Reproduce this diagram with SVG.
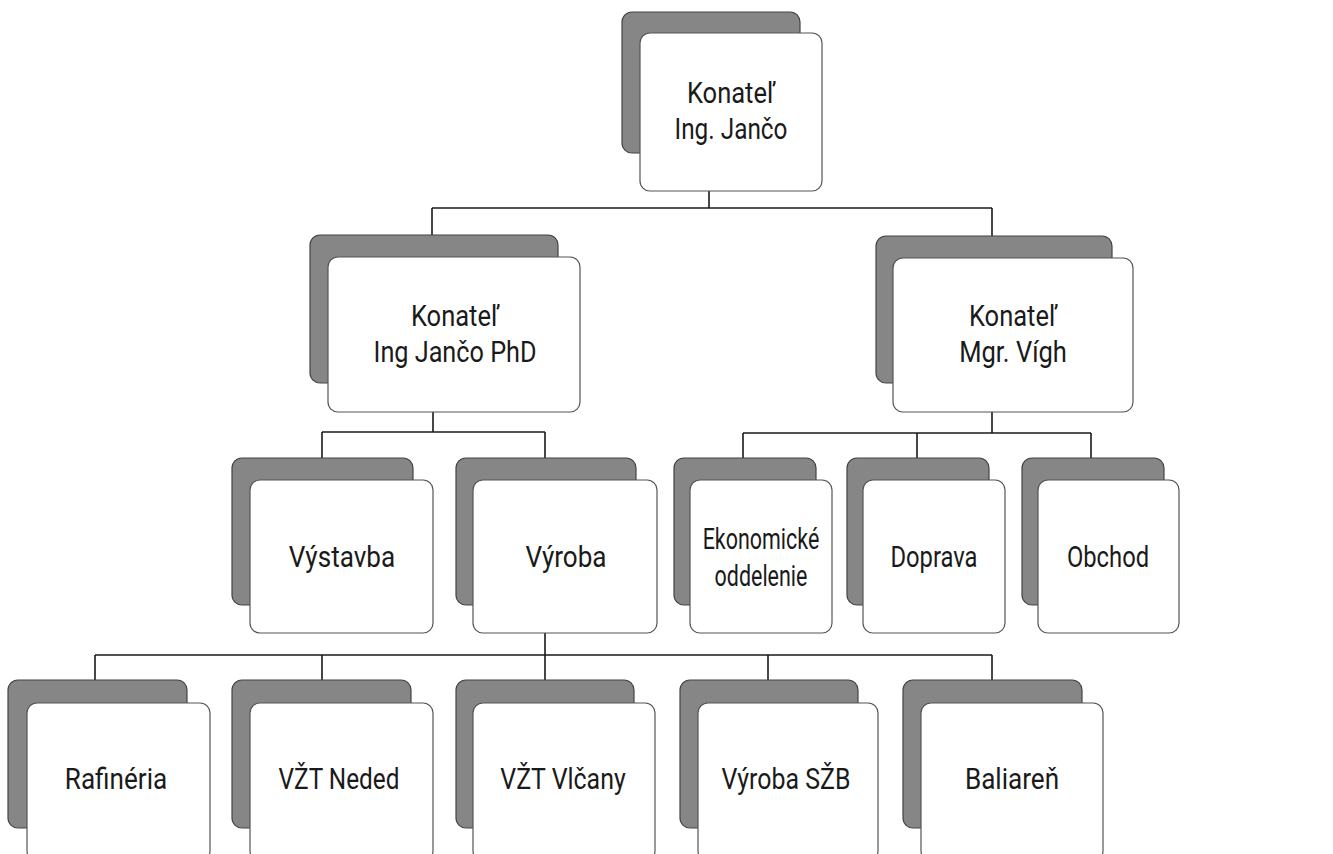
<svg xmlns="http://www.w3.org/2000/svg" width="1333" height="854" viewBox="0 0 1333 854">
<style>
.bg{fill:#ffffff}
.sh{fill:#868686;stroke:#444444;stroke-width:1.2}
.fr{fill:#ffffff;stroke:#555555;stroke-width:1.2}
.t{font-family:Roboto,"Liberation Sans",sans-serif;font-size:29px;fill:#1a1a1a;text-anchor:middle}
.c{fill:none;stroke:#1a1a1a;stroke-width:1.6}
</style>
<rect class="bg" x="0" y="0" width="1333" height="854"/>
<g id="connectors">
<path class="c" d="M709 191V208M432 208H992M432 208V235M992 208V236"/>
<path class="c" d="M433 412V432M322 432H545M322 432V458M545 432V458"/>
<path class="c" d="M992 412V433M743 433H1091M743 433V458M917 433V458M1091 433V458"/>
<path class="c" d="M545 633V655M95 655H992M95 655V680M322 655V680M545 655V680M768 655V680M992 655V680"/>
</g>
<g id="n-top">
<rect class="sh" x="622" y="12" width="178" height="141" rx="10"/>
<rect class="fr" x="640" y="33" width="182" height="158" rx="10"/>
<text class="t" transform="translate(731 103) scale(0.88 1)">Konateľ</text>
<text class="t" transform="translate(731 139) scale(0.84 1)">Ing. Jančo</text>
</g>
<g id="n-janco-phd">
<rect class="sh" x="310" y="235" width="248" height="148" rx="10"/>
<rect class="fr" x="328" y="257" width="252" height="155" rx="10"/>
<text class="t" transform="translate(455 326) scale(0.88 1)">Konateľ</text>
<text class="t" transform="translate(455 362) scale(0.87 1)">Ing Jančo PhD</text>
</g>
<g id="n-vigh">
<rect class="sh" x="876" y="236" width="236" height="147" rx="10"/>
<rect class="fr" x="893" y="258" width="240" height="154" rx="10"/>
<text class="t" transform="translate(1013 326) scale(0.88 1)">Konateľ</text>
<text class="t" transform="translate(1013 362) scale(0.88 1)">Mgr. Vígh</text>
</g>
<g id="n-vystavba">
<rect class="sh" x="232" y="458" width="181" height="147" rx="10"/>
<rect class="fr" x="250" y="480" width="183" height="153" rx="10"/>
<text class="t" transform="translate(342 567) scale(0.9 1)">Výstavba</text>
</g>
<g id="n-vyroba">
<rect class="sh" x="456" y="458" width="180" height="147" rx="10"/>
<rect class="fr" x="473" y="480" width="184" height="153" rx="10"/>
<text class="t" transform="translate(566 567) scale(0.9 1)">Výroba</text>
</g>
<g id="n-ekonomicke">
<rect class="sh" x="674" y="458" width="142" height="147" rx="10"/>
<rect class="fr" x="690" y="480" width="142" height="153" rx="10"/>
<text class="t" transform="translate(761 549) scale(0.74 1)">Ekonomické</text>
<text class="t" transform="translate(761 586) scale(0.74 1)">oddelenie</text>
</g>
<g id="n-doprava">
<rect class="sh" x="847" y="458" width="142" height="147" rx="10"/>
<rect class="fr" x="863" y="480" width="142" height="153" rx="10"/>
<text class="t" transform="translate(934 567) scale(0.82 1)">Doprava</text>
</g>
<g id="n-obchod">
<rect class="sh" x="1022" y="458" width="142" height="147" rx="10"/>
<rect class="fr" x="1038" y="480" width="141" height="153" rx="10"/>
<text class="t" transform="translate(1108 567) scale(0.82 1)">Obchod</text>
</g>
<g id="n-rafineria">
<rect class="sh" x="8" y="680" width="179" height="148" rx="10"/>
<rect class="fr" x="27" y="703" width="183" height="158" rx="10"/>
<text class="t" transform="translate(116 789) scale(0.9 1)">Rafinéria</text>
</g>
<g id="n-vzt-neded">
<rect class="sh" x="232" y="680" width="179" height="148" rx="10"/>
<rect class="fr" x="250" y="703" width="183" height="158" rx="10"/>
<text class="t" transform="translate(339 789) scale(0.84 1)">VŽT Neded</text>
</g>
<g id="n-vzt-vlcany">
<rect class="sh" x="456" y="680" width="178" height="148" rx="10"/>
<rect class="fr" x="473" y="703" width="182" height="158" rx="10"/>
<text class="t" transform="translate(563 789) scale(0.86 1)">VŽT Vlčany</text>
</g>
<g id="n-vyroba-szb">
<rect class="sh" x="680" y="680" width="178" height="148" rx="10"/>
<rect class="fr" x="698" y="703" width="180" height="158" rx="10"/>
<text class="t" transform="translate(786 789) scale(0.86 1)">Výroba SŽB</text>
</g>
<g id="n-baliaren">
<rect class="sh" x="903" y="680" width="179" height="148" rx="10"/>
<rect class="fr" x="921" y="703" width="182" height="158" rx="10"/>
<text class="t" transform="translate(1012 789) scale(0.9 1)">Baliareň</text>
</g>
</svg>
